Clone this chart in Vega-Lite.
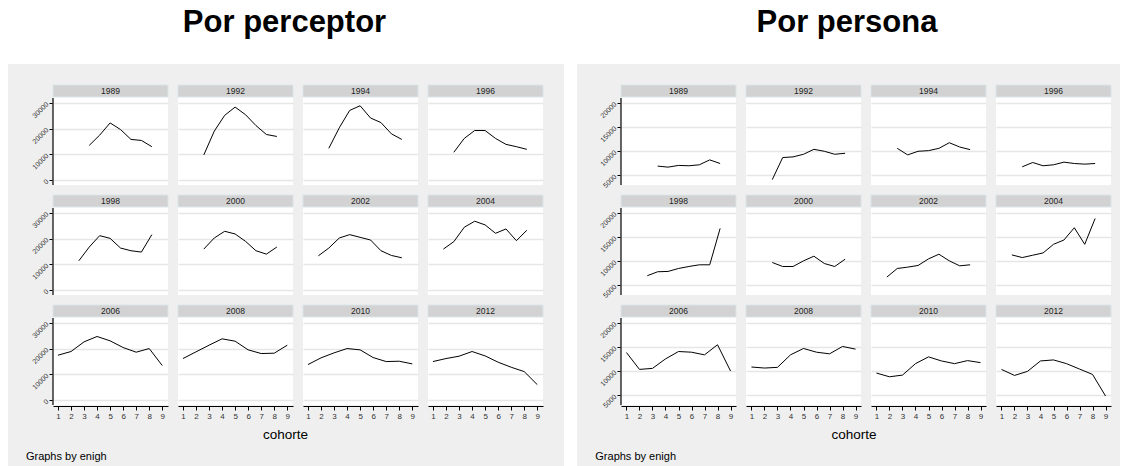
{
  "$schema": "https://vega.github.io/schema/vega-lite/v6.json",
  "background": "#efefef",
  "padding": 0,
  "spacing": 0,
  "datasets": {
    "perceptor": [
      {"enigh": 1989, "cohorte": 3.4, "valor": 13460}, {"enigh": 1989, "cohorte": 4.2, "valor": 17440}, {"enigh": 1989, "cohorte": 5.0, "valor": 22180}, {"enigh": 1989, "cohorte": 5.8, "valor": 19610}, {"enigh": 1989, "cohorte": 6.6, "valor": 15770}, {"enigh": 1989, "cohorte": 7.4, "valor": 15380}, {"enigh": 1989, "cohorte": 8.2, "valor": 12950},
      {"enigh": 1992, "cohorte": 2.6, "valor": 9740}, {"enigh": 1992, "cohorte": 3.4, "valor": 18970}, {"enigh": 1992, "cohorte": 4.2, "valor": 25130}, {"enigh": 1992, "cohorte": 5.0, "valor": 28330}, {"enigh": 1992, "cohorte": 5.8, "valor": 25380}, {"enigh": 1992, "cohorte": 6.6, "valor": 21150}, {"enigh": 1992, "cohorte": 7.4, "valor": 17690}, {"enigh": 1992, "cohorte": 8.2, "valor": 16920},
      {"enigh": 1994, "cohorte": 2.6, "valor": 12310}, {"enigh": 1994, "cohorte": 3.4, "valor": 20260}, {"enigh": 1994, "cohorte": 4.2, "valor": 27050}, {"enigh": 1994, "cohorte": 5.0, "valor": 28850}, {"enigh": 1994, "cohorte": 5.8, "valor": 24100}, {"enigh": 1994, "cohorte": 6.6, "valor": 22310}, {"enigh": 1994, "cohorte": 7.4, "valor": 17950}, {"enigh": 1994, "cohorte": 8.2, "valor": 15770},
      {"enigh": 1996, "cohorte": 2.6, "valor": 10770}, {"enigh": 1996, "cohorte": 3.4, "valor": 16150}, {"enigh": 1996, "cohorte": 4.2, "valor": 19230}, {"enigh": 1996, "cohorte": 5.0, "valor": 19230}, {"enigh": 1996, "cohorte": 5.8, "valor": 16150}, {"enigh": 1996, "cohorte": 6.6, "valor": 13850}, {"enigh": 1996, "cohorte": 7.4, "valor": 12950}, {"enigh": 1996, "cohorte": 8.2, "valor": 11920},
      {"enigh": 1998, "cohorte": 2.6, "valor": 11350}, {"enigh": 1998, "cohorte": 3.4, "valor": 16690}, {"enigh": 1998, "cohorte": 4.2, "valor": 21120}, {"enigh": 1998, "cohorte": 5.0, "valor": 20080}, {"enigh": 1998, "cohorte": 5.8, "valor": 16300}, {"enigh": 1998, "cohorte": 6.6, "valor": 15260}, {"enigh": 1998, "cohorte": 7.4, "valor": 14740}, {"enigh": 1998, "cohorte": 8.2, "valor": 21520},
      {"enigh": 2000, "cohorte": 2.6, "valor": 15910}, {"enigh": 2000, "cohorte": 3.4, "valor": 20210}, {"enigh": 2000, "cohorte": 4.2, "valor": 22820}, {"enigh": 2000, "cohorte": 5.0, "valor": 21780}, {"enigh": 2000, "cohorte": 5.8, "valor": 18910}, {"enigh": 2000, "cohorte": 6.6, "valor": 15260}, {"enigh": 2000, "cohorte": 7.4, "valor": 13950}, {"enigh": 2000, "cohorte": 8.2, "valor": 16690},
      {"enigh": 2002, "cohorte": 1.8, "valor": 13300}, {"enigh": 2002, "cohorte": 2.6, "valor": 16300}, {"enigh": 2002, "cohorte": 3.4, "valor": 20210}, {"enigh": 2002, "cohorte": 4.2, "valor": 21520}, {"enigh": 2002, "cohorte": 5.0, "valor": 20470}, {"enigh": 2002, "cohorte": 5.8, "valor": 19430}, {"enigh": 2002, "cohorte": 6.6, "valor": 15260}, {"enigh": 2002, "cohorte": 7.4, "valor": 13430}, {"enigh": 2002, "cohorte": 8.2, "valor": 12520},
      {"enigh": 2004, "cohorte": 1.8, "valor": 15910}, {"enigh": 2004, "cohorte": 2.6, "valor": 18780}, {"enigh": 2004, "cohorte": 3.4, "valor": 24380}, {"enigh": 2004, "cohorte": 4.2, "valor": 26730}, {"enigh": 2004, "cohorte": 5.0, "valor": 25300}, {"enigh": 2004, "cohorte": 5.8, "valor": 22040}, {"enigh": 2004, "cohorte": 6.6, "valor": 23730}, {"enigh": 2004, "cohorte": 7.4, "valor": 19170}, {"enigh": 2004, "cohorte": 8.2, "valor": 23210},
      {"enigh": 2006, "cohorte": 1, "valor": 17410}, {"enigh": 2006, "cohorte": 2, "valor": 18840}, {"enigh": 2006, "cohorte": 3, "valor": 22600}, {"enigh": 2006, "cohorte": 4, "valor": 24680}, {"enigh": 2006, "cohorte": 5, "valor": 22990}, {"enigh": 2006, "cohorte": 6, "valor": 20390}, {"enigh": 2006, "cohorte": 7, "valor": 18580}, {"enigh": 2006, "cohorte": 8, "valor": 20000}, {"enigh": 2006, "cohorte": 9, "valor": 13380},
      {"enigh": 2008, "cohorte": 1, "valor": 16110}, {"enigh": 2008, "cohorte": 2, "valor": 18710}, {"enigh": 2008, "cohorte": 3, "valor": 21300}, {"enigh": 2008, "cohorte": 4, "valor": 23770}, {"enigh": 2008, "cohorte": 5, "valor": 22860}, {"enigh": 2008, "cohorte": 6, "valor": 19490}, {"enigh": 2008, "cohorte": 7, "valor": 18060}, {"enigh": 2008, "cohorte": 8, "valor": 18190}, {"enigh": 2008, "cohorte": 9, "valor": 21300},
      {"enigh": 2010, "cohorte": 1, "valor": 13770}, {"enigh": 2010, "cohorte": 2, "valor": 16370}, {"enigh": 2010, "cohorte": 3, "valor": 18320}, {"enigh": 2010, "cohorte": 4, "valor": 20000}, {"enigh": 2010, "cohorte": 5, "valor": 19490}, {"enigh": 2010, "cohorte": 6, "valor": 16500}, {"enigh": 2010, "cohorte": 7, "valor": 14940}, {"enigh": 2010, "cohorte": 8, "valor": 15070}, {"enigh": 2010, "cohorte": 9, "valor": 14030},
      {"enigh": 2012, "cohorte": 1, "valor": 14940}, {"enigh": 2012, "cohorte": 2, "valor": 16110}, {"enigh": 2012, "cohorte": 3, "valor": 17020}, {"enigh": 2012, "cohorte": 4, "valor": 18840}, {"enigh": 2012, "cohorte": 5, "valor": 17150}, {"enigh": 2012, "cohorte": 6, "valor": 14680}, {"enigh": 2012, "cohorte": 7, "valor": 12730}, {"enigh": 2012, "cohorte": 8, "valor": 11040}, {"enigh": 2012, "cohorte": 9, "valor": 5980}
    ],
    "persona": [
      {"enigh": 1989, "cohorte": 3.4, "valor": 6910}, {"enigh": 1989, "cohorte": 4.2, "valor": 6700}, {"enigh": 1989, "cohorte": 5.0, "valor": 7050}, {"enigh": 1989, "cohorte": 5.8, "valor": 6980}, {"enigh": 1989, "cohorte": 6.6, "valor": 7180}, {"enigh": 1989, "cohorte": 7.4, "valor": 8200}, {"enigh": 1989, "cohorte": 8.2, "valor": 7450},
      {"enigh": 1992, "cohorte": 2.6, "valor": 4110}, {"enigh": 1992, "cohorte": 3.4, "valor": 8680}, {"enigh": 1992, "cohorte": 4.2, "valor": 8820}, {"enigh": 1992, "cohorte": 5.0, "valor": 9360}, {"enigh": 1992, "cohorte": 5.8, "valor": 10390}, {"enigh": 1992, "cohorte": 6.6, "valor": 9980}, {"enigh": 1992, "cohorte": 7.4, "valor": 9360}, {"enigh": 1992, "cohorte": 8.2, "valor": 9570},
      {"enigh": 1994, "cohorte": 2.6, "valor": 10590}, {"enigh": 1994, "cohorte": 3.4, "valor": 9230}, {"enigh": 1994, "cohorte": 4.2, "valor": 9980}, {"enigh": 1994, "cohorte": 5.0, "valor": 10110}, {"enigh": 1994, "cohorte": 5.8, "valor": 10590}, {"enigh": 1994, "cohorte": 6.6, "valor": 11750}, {"enigh": 1994, "cohorte": 7.4, "valor": 10860}, {"enigh": 1994, "cohorte": 8.2, "valor": 10320},
      {"enigh": 1996, "cohorte": 2.6, "valor": 6770}, {"enigh": 1996, "cohorte": 3.4, "valor": 7660}, {"enigh": 1996, "cohorte": 4.2, "valor": 6980}, {"enigh": 1996, "cohorte": 5.0, "valor": 7180}, {"enigh": 1996, "cohorte": 5.8, "valor": 7730}, {"enigh": 1996, "cohorte": 6.6, "valor": 7450}, {"enigh": 1996, "cohorte": 7.4, "valor": 7320}, {"enigh": 1996, "cohorte": 8.2, "valor": 7450},
      {"enigh": 1998, "cohorte": 2.6, "valor": 6990}, {"enigh": 1998, "cohorte": 3.4, "valor": 7810}, {"enigh": 1998, "cohorte": 4.2, "valor": 7880}, {"enigh": 1998, "cohorte": 5.0, "valor": 8490}, {"enigh": 1998, "cohorte": 5.8, "valor": 8900}, {"enigh": 1998, "cohorte": 6.6, "valor": 9250}, {"enigh": 1998, "cohorte": 7.4, "valor": 9250}, {"enigh": 1998, "cohorte": 8.2, "valor": 16780},
      {"enigh": 2000, "cohorte": 2.6, "valor": 9730}, {"enigh": 2000, "cohorte": 3.4, "valor": 8900}, {"enigh": 2000, "cohorte": 4.2, "valor": 8900}, {"enigh": 2000, "cohorte": 5.0, "valor": 10070}, {"enigh": 2000, "cohorte": 5.8, "valor": 11030}, {"enigh": 2000, "cohorte": 6.6, "valor": 9520}, {"enigh": 2000, "cohorte": 7.4, "valor": 8900}, {"enigh": 2000, "cohorte": 8.2, "valor": 10410},
      {"enigh": 2002, "cohorte": 1.8, "valor": 6710}, {"enigh": 2002, "cohorte": 2.6, "valor": 8490}, {"enigh": 2002, "cohorte": 3.4, "valor": 8770}, {"enigh": 2002, "cohorte": 4.2, "valor": 9110}, {"enigh": 2002, "cohorte": 5.0, "valor": 10480}, {"enigh": 2002, "cohorte": 5.8, "valor": 11440}, {"enigh": 2002, "cohorte": 6.6, "valor": 10070}, {"enigh": 2002, "cohorte": 7.4, "valor": 9040}, {"enigh": 2002, "cohorte": 8.2, "valor": 9250},
      {"enigh": 2004, "cohorte": 1.8, "valor": 11300}, {"enigh": 2004, "cohorte": 2.6, "valor": 10750}, {"enigh": 2004, "cohorte": 3.4, "valor": 11230}, {"enigh": 2004, "cohorte": 4.2, "valor": 11710}, {"enigh": 2004, "cohorte": 5.0, "valor": 13490}, {"enigh": 2004, "cohorte": 5.8, "valor": 14380}, {"enigh": 2004, "cohorte": 6.6, "valor": 16920}, {"enigh": 2004, "cohorte": 7.4, "valor": 13490}, {"enigh": 2004, "cohorte": 8.2, "valor": 18840},
      {"enigh": 2006, "cohorte": 1, "valor": 13860}, {"enigh": 2006, "cohorte": 2, "valor": 10370}, {"enigh": 2006, "cohorte": 3, "valor": 10580}, {"enigh": 2006, "cohorte": 4, "valor": 12540}, {"enigh": 2006, "cohorte": 5, "valor": 14070}, {"enigh": 2006, "cohorte": 6, "valor": 13930}, {"enigh": 2006, "cohorte": 7, "valor": 13380}, {"enigh": 2006, "cohorte": 8, "valor": 15470}, {"enigh": 2006, "cohorte": 9, "valor": 10030},
      {"enigh": 2008, "cohorte": 1, "valor": 10860}, {"enigh": 2008, "cohorte": 2, "valor": 10650}, {"enigh": 2008, "cohorte": 3, "valor": 10790}, {"enigh": 2008, "cohorte": 4, "valor": 13380}, {"enigh": 2008, "cohorte": 5, "valor": 14700}, {"enigh": 2008, "cohorte": 6, "valor": 13930}, {"enigh": 2008, "cohorte": 7, "valor": 13590}, {"enigh": 2008, "cohorte": 8, "valor": 15120}, {"enigh": 2008, "cohorte": 9, "valor": 14560},
      {"enigh": 2010, "cohorte": 1, "valor": 9610}, {"enigh": 2010, "cohorte": 2, "valor": 8840}, {"enigh": 2010, "cohorte": 3, "valor": 9190}, {"enigh": 2010, "cohorte": 4, "valor": 11560}, {"enigh": 2010, "cohorte": 5, "valor": 12960}, {"enigh": 2010, "cohorte": 6, "valor": 12120}, {"enigh": 2010, "cohorte": 7, "valor": 11560}, {"enigh": 2010, "cohorte": 8, "valor": 12190}, {"enigh": 2010, "cohorte": 9, "valor": 11770},
      {"enigh": 2012, "cohorte": 1, "valor": 10370}, {"enigh": 2012, "cohorte": 2, "valor": 9120}, {"enigh": 2012, "cohorte": 3, "valor": 9960}, {"enigh": 2012, "cohorte": 4, "valor": 12120}, {"enigh": 2012, "cohorte": 5, "valor": 12330}, {"enigh": 2012, "cohorte": 6, "valor": 11560}, {"enigh": 2012, "cohorte": 7, "valor": 10440}, {"enigh": 2012, "cohorte": 8, "valor": 9330}, {"enigh": 2012, "cohorte": 9, "valor": 4860}
    ]
  },
  "vconcat": [
    {
      "spacing": 0,
      "hconcat": [
        {
          "width": 569, "height": 64,
          "view": {"fill": "white", "stroke": null},
          "data": {"values": [{"t": "Por perceptor"}]},
          "mark": {"type": "text", "fontSize": 31, "fontWeight": "bold", "baseline": "alphabetic", "color": "#000"},
          "encoding": {"text": {"field": "t", "type": "nominal"}}
        },
        {
          "width": 556, "height": 64,
          "view": {"fill": "white", "stroke": null},
          "data": {"values": [{"t": "Por persona"}]},
          "mark": {"type": "text", "fontSize": 31, "fontWeight": "bold", "baseline": "alphabetic", "color": "#000"},
          "encoding": {"text": {"field": "t", "type": "nominal"}}
        }
      ]
    },
    {
      "spacing": 0,
      "hconcat": [
        {"width": 8, "height": 402, "view": {"fill": "white", "stroke": null}, "data": {"values": []}, "mark": "rect"},
        {
          "spacing": 0,
          "vconcat": [
            {"width": 511, "height": 20, "data": {"values": []}, "mark": "rect"},
            {
              "data": {"name": "perceptor"},
              "facet": {"field": "enigh", "type": "ordinal", "header": {"labels": false, "title": null, "labelPadding": 0, "labelFontSize": 0.01, "labelColor": "transparent", "labelExpr": "''"}},
              "columns": 4,
              "spacing": {"row": 8, "column": 8},
              "spec": {
                "width": 115, "height": 100,
                "view": {"fill": "white", "stroke": null},
                "layer": [
                  {
                    "transform": [{"aggregate": [{"op": "count", "as": "n"}], "groupby": ["enigh"]}],
                    "mark": {"type": "rect", "fill": "#d2d2d2", "stroke": "#dae5ea", "strokeWidth": 1},
                    "encoding": {"x": {"datum": 0.62}, "x2": {"datum": 9.44}, "y": {"datum": 36920}, "y2": {"datum": 32260}}
                  },
                  {
                    "transform": [{"aggregate": [{"op": "count", "as": "n"}], "groupby": ["enigh"]}],
                    "mark": {"type": "text", "fontSize": 8.5, "color": "#222", "baseline": "middle"},
                    "encoding": {"x": {"datum": 5.03}, "y": {"datum": 34590}, "text": {"field": "enigh", "type": "nominal"}}
                  },
                  {
                    "transform": [{"filter": {"field": "enigh", "oneOf": [1989, 1998, 2006]}}, {"aggregate": [{"op": "count", "as": "n"}], "groupby": ["enigh"]}],
                    "mark": {"type": "rule", "color": "#000", "strokeWidth": 1.2},
                    "encoding": {"x": {"datum": 0.62}, "y": {"datum": 31870}, "y2": {"datum": -1940}}
                  },
                  {
                    "mark": {"type": "line", "color": "#000", "strokeWidth": 1},
                    "encoding": {
                      "x": {"field": "cohorte", "type": "quantitative", "scale": {"domain": [0.62, 9.44], "nice": false, "zero": false}, "axis": {"values": [1, 2, 3, 4, 5, 6, 7, 8, 9], "tickCount": 50, "format": "d", "title": null}},
                      "y": {"field": "valor", "type": "quantitative", "scale": {"domain": [-1940, 36920], "nice": false, "zero": false}, "axis": {"values": [0, 10000, 20000, 30000], "tickCount": 50, "title": null, "minExtent": 44, "maxExtent": 44}}
                    }
                  }
                ]
              }
            },
            {
              "width": 511, "height": 42,
              "layer": [
                {
                  "data": {"values": [{"t": "cohorte"}]},
                  "mark": {"type": "text", "fontSize": 13.5, "baseline": "alphabetic", "color": "#000"},
                  "encoding": {
                    "x": {"datum": 45.5, "type": "quantitative", "scale": {"domain": [0, 100], "nice": false}, "axis": null},
                    "y": {"datum": 12.7, "type": "quantitative", "scale": {"domain": [0, 42], "reverse": true, "nice": false}, "axis": null},
                    "text": {"field": "t", "type": "nominal"}
                  }
                },
                {
                  "data": {"values": [{"t": "Graphs by enigh"}]},
                  "mark": {"type": "text", "fontSize": 11, "align": "left", "baseline": "alphabetic", "color": "#000"},
                  "encoding": {
                    "x": {"datum": -5.3, "type": "quantitative"},
                    "y": {"datum": 34, "type": "quantitative"},
                    "text": {"field": "t", "type": "nominal"}
                  }
                }
              ]
            }
          ]
        },
        {"width": 13, "height": 402, "view": {"fill": "white", "stroke": null}, "data": {"values": []}, "mark": "rect"},
        {
          "spacing": 0,
          "vconcat": [
            {"width": 499, "height": 20, "data": {"values": []}, "mark": "rect"},
            {
              "data": {"name": "persona"},
              "facet": {"field": "enigh", "type": "ordinal", "header": {"labels": false, "title": null, "labelPadding": 0, "labelFontSize": 0.01, "labelColor": "transparent", "labelExpr": "''"}},
              "columns": 4,
              "spacing": {"row": 8, "column": 8},
              "spec": {
                "width": 115, "height": 100,
                "view": {"fill": "white", "stroke": null},
                "layer": [
                  {
                    "transform": [{"aggregate": [{"op": "count", "as": "n"}], "groupby": ["enigh"]}],
                    "mark": {"type": "rect", "fill": "#d2d2d2", "stroke": "#dae5ea", "strokeWidth": 1},
                    "encoding": {"x": {"datum": 0.58}, "x2": {"datum": 9.42}, "y": {"datum": 23700}, "y2": {"datum": 21215}}
                  },
                  {
                    "transform": [{"aggregate": [{"op": "count", "as": "n"}], "groupby": ["enigh"]}],
                    "mark": {"type": "text", "fontSize": 8.5, "color": "#222", "baseline": "middle"},
                    "encoding": {"x": {"datum": 5.0}, "y": {"datum": 22457}, "text": {"field": "enigh", "type": "nominal"}}
                  },
                  {
                    "transform": [{"filter": {"field": "enigh", "oneOf": [1989, 1998, 2006]}}, {"aggregate": [{"op": "count", "as": "n"}], "groupby": ["enigh"]}],
                    "mark": {"type": "rule", "color": "#000", "strokeWidth": 1.2},
                    "encoding": {"x": {"datum": 0.58}, "y": {"datum": 21010}, "y2": {"datum": 3000}}
                  },
                  {
                    "mark": {"type": "line", "color": "#000", "strokeWidth": 1},
                    "encoding": {
                      "x": {"field": "cohorte", "type": "quantitative", "scale": {"domain": [0.58, 9.42], "nice": false, "zero": false}, "axis": {"values": [1, 2, 3, 4, 5, 6, 7, 8, 9], "tickCount": 50, "format": "d", "title": null}},
                      "y": {"field": "valor", "type": "quantitative", "scale": {"domain": [3000, 23700], "nice": false, "zero": false}, "axis": {"values": [5000, 10000, 15000, 20000], "tickCount": 50, "title": null, "minExtent": 43, "maxExtent": 43}}
                    }
                  }
                ]
              }
            },
            {
              "width": 499, "height": 42,
              "layer": [
                {
                  "data": {"values": [{"t": "cohorte"}]},
                  "mark": {"type": "text", "fontSize": 13.5, "baseline": "alphabetic", "color": "#000"},
                  "encoding": {
                    "x": {"datum": 46.7, "type": "quantitative", "scale": {"domain": [0, 100], "nice": false}, "axis": null},
                    "y": {"datum": 12.7, "type": "quantitative", "scale": {"domain": [0, 42], "reverse": true, "nice": false}, "axis": null},
                    "text": {"field": "t", "type": "nominal"}
                  }
                },
                {
                  "data": {"values": [{"t": "Graphs by enigh"}]},
                  "mark": {"type": "text", "fontSize": 11, "align": "left", "baseline": "alphabetic", "color": "#000"},
                  "encoding": {
                    "x": {"datum": -5.15, "type": "quantitative"},
                    "y": {"datum": 34, "type": "quantitative"},
                    "text": {"field": "t", "type": "nominal"}
                  }
                }
              ]
            }
          ]
        },
        {"width": 7, "height": 402, "view": {"fill": "white", "stroke": null}, "data": {"values": []}, "mark": "rect"}
      ]
    }
  ],
  "config": {
    "font": "Liberation Sans",
    "view": {"stroke": null},
    "header": {"labels": false, "title": null, "labelPadding": 0, "labelFontSize": 0.01, "labelColor": "transparent"},
    "headerFacet": {"labels": false, "title": null, "labelPadding": 0, "labelFontSize": 0.01, "labelColor": "transparent"},
    "axis": {"domainColor": "#000", "tickColor": "#000", "labelColor": "#333", "labelFont": "Liberation Sans", "labelFlush": false, "labelOverlap": false},
    "axisX": {"grid": false, "tickSize": 4, "labelFontSize": 8, "labelPadding": 2, "minExtent": 20, "maxExtent": 20, "domainWidth": 1},
    "axisY": {"grid": true, "gridColor": "#e6e6e6", "gridWidth": 1.5, "domain": false, "tickSize": 3, "tickWidth": 1, "labelFontSize": 7, "labelAngle": -45, "labelAlign": "right", "labelBaseline": "middle", "labelPadding": 2, "format": "d"}
  }
}
